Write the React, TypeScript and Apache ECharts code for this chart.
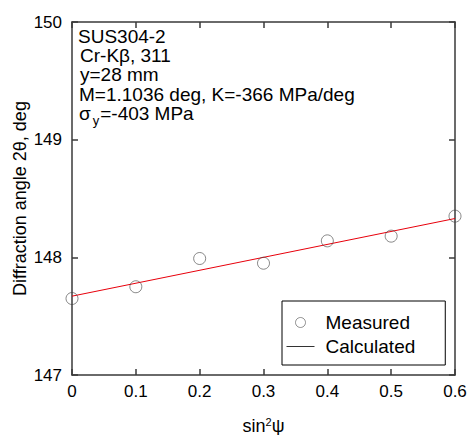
import React, { useEffect, useRef } from 'react';
import * as echarts from 'echarts';

const sin2psi = [0, 0.1, 0.2, 0.3, 0.4, 0.5, 0.6];
const measured = [147.65, 147.75, 147.99, 147.95, 148.14, 148.18, 148.35];
const calcX = [0, 0.6];
const calcY = [147.67, 148.33];
const xTickLabels = ['0', '0.1', '0.2', '0.3', '0.4', '0.5', '0.6'];
const yTickLabels = ['147', '148', '149', '150'];
const infoLines = ['SUS304-2', 'Cr-Kβ, 311', 'y=28 mm', 'M=1.1036 deg, K=-366 MPa/deg'];
const stressText = '=-403 MPa';
const seriesNames = ['Measured', 'Calculated'];

const FONT = "'Liberation Sans', Arial, Helvetica, sans-serif";
const AX = '#3a3a3a';

export default function App() {
  const ref = useRef<HTMLDivElement>(null);
  useEffect(() => {
    if (!ref.current) return;
    const chart = echarts.init(ref.current, undefined, { renderer: 'svg' });
    const axisLine = { show: true, onZero: false, lineStyle: { color: AX, width: 1.5 } };
    const axisTick = { show: true, inside: true, length: 6, lineStyle: { color: AX, width: 1.5 } };
    const infoX = [78, 80, 80, 79];
    const infoY = [36, 55, 74, 94];
    const option: any = {
      animation: false,
      textStyle: { fontFamily: FONT },
      grid: { left: 72, right: 14, top: 22, bottom: 60, containLabel: false, outerBoundsMode: 'none' },
      xAxis: [
        {
          type: 'value', min: 0, max: 0.6, interval: 0.1, position: 'bottom',
          axisLine, axisTick, splitLine: { show: false },
          axisLabel: {
            fontSize: 17, color: '#000', margin: 8, fontFamily: FONT,
            formatter: (v: number) => xTickLabels[Math.round(v * 10)] ?? '',
          },
          name: '{a|sin}{s|2}{a|ψ}', nameLocation: 'middle', nameGap: 41,
          nameTextStyle: {
            rich: {
              a: { fontSize: 18, color: '#000', fontFamily: FONT, verticalAlign: 'bottom' },
              s: { fontSize: 11, color: '#000', fontFamily: FONT, verticalAlign: 'bottom', padding: [0, 0, 8, 0] },
            },
          },
        },
        {
          type: 'value', min: 0, max: 0.6, interval: 0.1, position: 'top',
          axisLine, axisTick, splitLine: { show: false }, axisLabel: { show: false },
        },
      ],
      yAxis: [
        {
          type: 'value', min: 147, max: 150, interval: 1, position: 'left',
          axisLine, axisTick, splitLine: { show: false },
          axisLabel: {
            fontSize: 17, color: '#000', margin: 10, fontFamily: FONT,
            formatter: (v: number) => yTickLabels[Math.round(v - 147)] ?? '',
          },
          name: 'Diffraction angle 2θ, deg', nameLocation: 'middle', nameGap: 43,
          nameMoveOverlap: false,
          nameTextStyle: { fontSize: 18, color: '#000', fontFamily: FONT },
        },
        {
          type: 'value', min: 147, max: 150, interval: 1, position: 'right',
          axisLine, axisTick, splitLine: { show: false }, axisLabel: { show: false },
        },
      ],
      legend: {
        orient: 'vertical', left: 282, top: 301,
        data: [
          {
            name: seriesNames[0], icon: 'circle',
            itemStyle: { color: 'rgba(255,255,255,0)', borderColor: '#555', borderWidth: 0.8 },
          },
          {
            name: seriesNames[1],
            itemStyle: { color: 'rgba(0,0,0,0)', borderWidth: 0, opacity: 0 },
            lineStyle: { color: '#333', width: 1 },
          },
        ],
        itemWidth: 28, itemHeight: 10, itemGap: 5,
        padding: [12, 30, 9, 4],
        borderColor: '#000', borderWidth: 1, backgroundColor: '#fff',
        textStyle: { fontSize: 19, color: '#000', fontFamily: FONT, padding: [0, 0, 0, 6] },
      },
      graphic: [
        ...infoLines.map((t, i) => ({
          type: 'text', x: infoX[i], y: infoY[i], z: 10,
          style: { text: t, fontSize: 19, fontFamily: FONT, fill: '#000', verticalAlign: 'middle' },
        })),
        {
          type: 'text', x: 79, y: 104, z: 10,
          style: {
            text: '{g|σ}{u|y}{g|' + stressText + '}',
            fontFamily: FONT, verticalAlign: 'top',
            rich: {
              g: { fontSize: 19, fill: '#000', fontFamily: FONT, verticalAlign: 'top' },
              u: { fontSize: 13, fill: '#000', fontFamily: FONT, verticalAlign: 'top', padding: [10, 1, 0, 2] },
            },
          },
        },
      ],
      series: [
        {
          name: seriesNames[0], type: 'scatter', symbol: 'circle', symbolSize: 12,
          data: sin2psi.map((x, i) => [x, measured[i]]),
          itemStyle: { color: 'rgba(255,255,255,0)', borderColor: '#444', borderWidth: 0.8 },
          z: 3,
        },
        {
          name: seriesNames[1], type: 'line', symbol: 'none',
          data: calcX.map((x, i) => [x, calcY[i]]),
          lineStyle: { color: '#e8000b', width: 1 }, itemStyle: { color: '#333' },
          z: 2,
        },
      ],
    };
    chart.setOption(option);
    return () => chart.dispose();
  }, []);
  return <div ref={ref} style={{ position: 'fixed', left: 0, top: 0, width: 469, height: 435, background: '#fff' }} />;
}
